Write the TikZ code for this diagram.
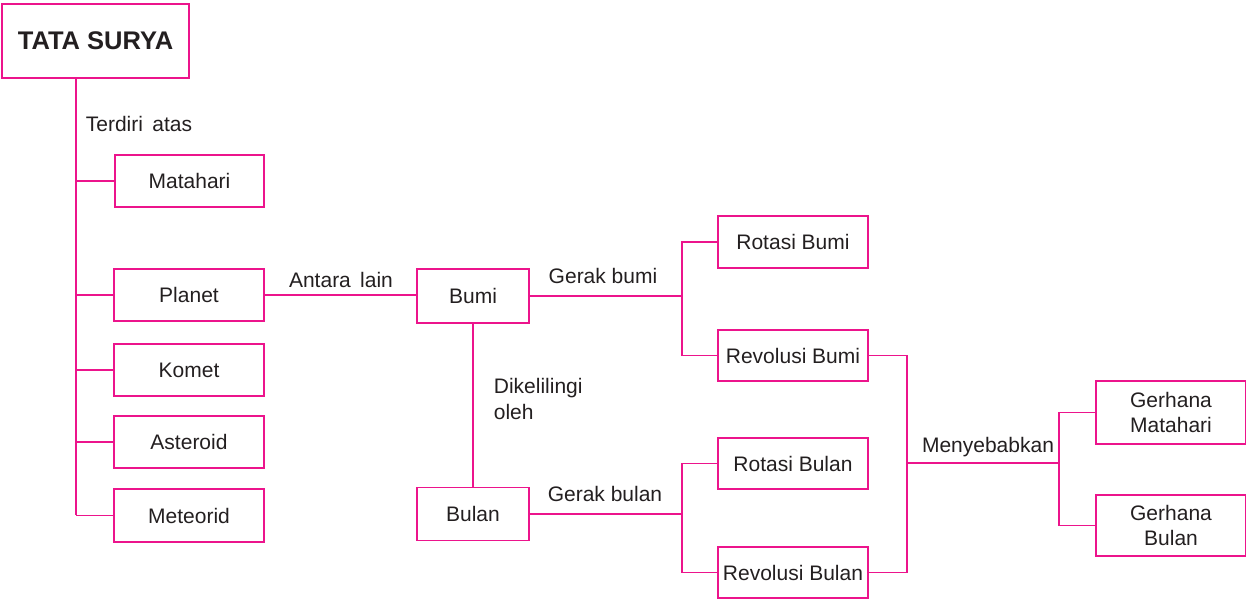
\documentclass[tikz,border=0pt]{standalone}
\usepackage{fontspec}
\setmainfont{Liberation Sans}
\definecolor{pinkline}{RGB}{236,20,140}
\definecolor{txt}{RGB}{35,31,32}
\begin{document}
\begin{tikzpicture}[x=1pt,y=-1pt,
  line width=1.7pt,
  box/.style={draw=pinkline, rectangle, inner sep=0pt, text=txt, align=center,
    font=\fontsize{21}{25}\selectfont},
  lbl/.style={text=txt, inner sep=0pt, font=\fontsize{21}{26}\selectfont},
  conn/.style={draw=pinkline}]
\useasboundingbox (0,0) rectangle (1246,599);
% boxes
\node[box, minimum width=187pt, minimum height=74pt, font=\fontsize{25.5}{30}\selectfont\bfseries] (tata) at (95.5,41) {TATA SURYA};
\node[box, minimum width=149pt, minimum height=52pt] (matahari) at (189.5,181) {Matahari};
\node[box, minimum width=150pt, minimum height=52pt] (planet) at (189,295) {Planet};
\node[box, minimum width=150pt, minimum height=52pt] (komet) at (189,370) {Komet};
\node[box, minimum width=150pt, minimum height=52pt] (asteroid) at (189,442) {Asteroid};
\node[box, minimum width=150pt, minimum height=53pt] (meteorid) at (189,515.5) {Meteorid};
\node[box, minimum width=112pt, minimum height=54pt] (bumi) at (473,296) {Bumi};
\node[box, minimum width=112pt, minimum height=53pt] (bulan) at (473,514) {Bulan};
\node[box, minimum width=150pt, minimum height=52pt] (rotbumi) at (793,242) {Rotasi Bumi};
\node[box, minimum width=150pt, minimum height=51pt] (revbumi) at (793,355.5) {Revolusi Bumi};
\node[box, minimum width=150pt, minimum height=51pt] (rotbulan) at (793,463.5) {Rotasi Bulan};
\node[box, minimum width=150pt, minimum height=51pt] (revbulan) at (793,572.5) {Revolusi Bulan};
\node[box, minimum width=150pt, minimum height=63pt] (gmat) at (1171,412.5) {Gerhana\\Matahari};
\node[box, minimum width=150pt, minimum height=61pt] (gbul) at (1171,525.5) {Gerhana\\Bulan};
% junction coordinates
\coordinate (trunk) at (76,515);
\coordinate (gbumi) at (682,296);
\coordinate (gbulan) at (682,514);
\coordinate (mb) at (907,463);
\coordinate (gj) at (1059,463);
% connectors
\draw[conn] (tata.south -| trunk) -- (trunk);
\foreach \n in {matahari,planet,komet,asteroid,meteorid}
  \draw[conn] (\n.west -| trunk) -- (\n.west);
\draw[conn] (planet.east) -- (planet.east -| bumi.west);
\draw[conn] (bumi.south) -- (bulan.north);
\draw[conn] (bumi.east) -- (gbumi);
\draw[conn] (rotbumi.west) -| (gbumi);
\draw[conn] (revbumi.west) -| (gbumi);
\draw[conn] (bulan.east) -- (gbulan);
\draw[conn] (rotbulan.west) -| (gbulan);
\draw[conn] (revbulan.west) -| (gbulan);
\draw[conn] (revbumi.east) -| (mb);
\draw[conn] (revbulan.east) -| (mb);
\draw[conn] (mb) -- (gj);
\draw[conn] (gmat.west) -| (gj);
\draw[conn] (gbul.west) -| (gj);
% labels
\node[lbl, anchor=west] (l1) at (85,124) {Terdiri\, atas};
\node[lbl] (l2) at (341,280) {Antara\, lain};
\node[lbl] (l3) at (603,276) {Gerak bumi};
\node[lbl, anchor=west, align=left] (l4) at (493,399) {Dikelilingi\\oleh};
\node[lbl] (l5) at (605,494) {Gerak bulan};
\node[lbl] (l6) at (988,447) {Menyebabkan};
\end{tikzpicture}
\end{document}
